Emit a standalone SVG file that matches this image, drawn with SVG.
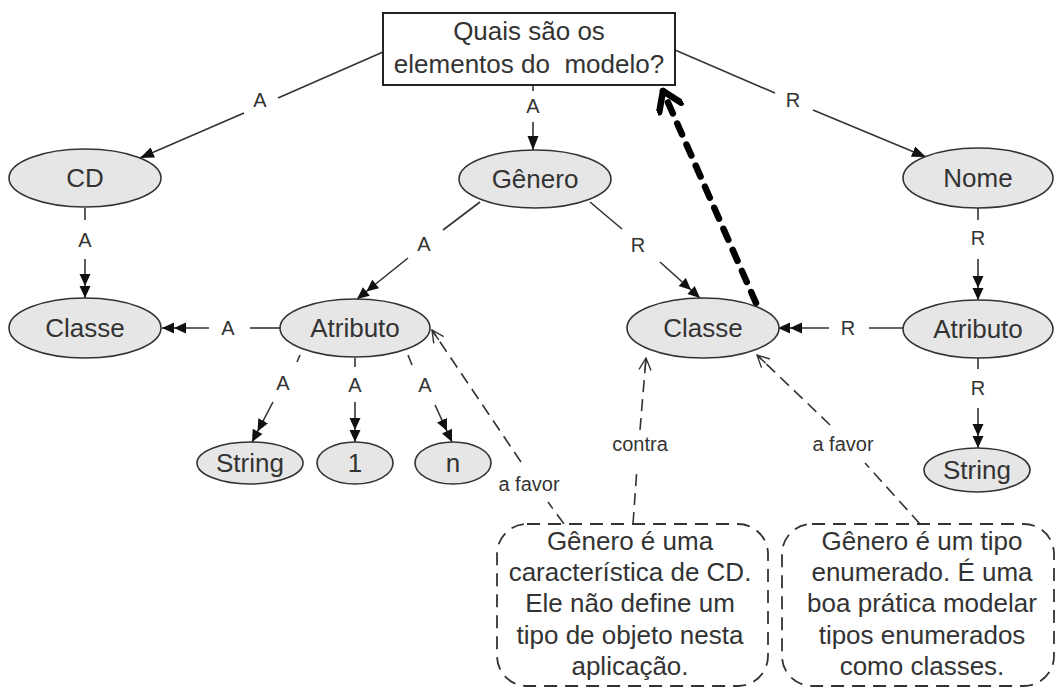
<svg xmlns="http://www.w3.org/2000/svg" width="1057" height="689" viewBox="0 0 1057 689">
<defs>
<style>
.node ellipse{fill:#e6e6e6;stroke:#333;stroke-width:1.6}
.t{font-family:"Liberation Sans",Arial,sans-serif;fill:#333;text-anchor:middle}
.nt{font-size:26px}
.lb{font-size:20px}
.ln{stroke:#333;stroke-width:1.6;fill:none}
.dl{stroke:#333;stroke-width:1.6;fill:none;stroke-dasharray:12 7}
.note rect{fill:#fff;stroke:#333;stroke-width:1.8;stroke-dasharray:13 8}
</style>
<marker id="s" viewBox="0 0 14 12" refX="14" refY="6" markerWidth="14" markerHeight="12" markerUnits="userSpaceOnUse" orient="auto"><path d="M0,0.5 L14,6 L0,11.5 z" fill="#111"/></marker>
<marker id="d" viewBox="0 0 24 12" refX="24" refY="6" markerWidth="24" markerHeight="12" markerUnits="userSpaceOnUse" orient="auto"><path d="M0,0.5 L12,6 L0,11.5 z M12,0.5 L24,6 L12,11.5 z" fill="#111"/></marker>
<marker id="o" viewBox="0 0 14 14" refX="13" refY="7" markerWidth="14" markerHeight="14" markerUnits="userSpaceOnUse" orient="auto"><path d="M1,1 L13,7 L1,13 M1,7 L13,7" fill="none" stroke="#333" stroke-width="1.4"/></marker>
<marker id="big" viewBox="-4 -14 28 28" refX="20" refY="0" markerWidth="28" markerHeight="28" markerUnits="userSpaceOnUse" orient="auto"><path d="M2,-12 L20,0 L2,12" fill="none" stroke="#000" stroke-width="6.5" stroke-linecap="round" stroke-linejoin="round"/></marker>
</defs>
<rect width="1057" height="689" fill="#fff"/>

<g id="connectors">
<!-- box -> CD -->
<path class="ln" d="M383,52 L278,98"/>
<path class="ln" d="M244,113 L140,158" marker-end="url(#s)"/>
<text class="t lb" x="260" y="107">A</text>
<!-- box -> Genero -->
<path class="ln" d="M533,86 L533,91"/>
<path class="ln" d="M533,122 L533,150" marker-end="url(#s)"/>
<text class="t lb" x="533" y="113">A</text>
<!-- box -> Nome -->
<path class="ln" d="M675,50 L775,93"/>
<path class="ln" d="M813,110 L926,157" marker-end="url(#s)"/>
<text class="t lb" x="793" y="107">R</text>
<!-- CD -> Classe -->
<path class="ln" d="M85,208 L85,220"/>
<path class="ln" d="M85,259 L85,298" marker-end="url(#d)"/>
<text class="t lb" x="85" y="247">A</text>
<!-- Atributo -> Classe left -->
<path class="ln" d="M280,328 L250,328"/>
<path class="ln" d="M209,328 L162,328" marker-end="url(#d)"/>
<text class="t lb" x="228" y="335">A</text>
<!-- Genero -> Atributo -->
<path class="ln" d="M480,202 L443,230"/>
<path class="ln" d="M408,258 L357,299" marker-end="url(#d)"/>
<text class="t lb" x="424" y="251">A</text>
<!-- Genero -> Classe R -->
<path class="ln" d="M590,202 L622,229"/>
<path class="ln" d="M660,262 L700,298" marker-end="url(#d)"/>
<text class="t lb" x="638" y="252">R</text>
<!-- Atributo -> String -->
<path class="ln" d="M300,355 L297,362"/>
<path class="ln" d="M273,402 L252,442" marker-end="url(#d)"/>
<text class="t lb" x="283" y="390">A</text>
<!-- Atributo -> 1 -->
<path class="ln" d="M355,358 L355,367"/>
<path class="ln" d="M355,402 L355,442" marker-end="url(#d)"/>
<text class="t lb" x="355" y="392">A</text>
<!-- Atributo -> n -->
<path class="ln" d="M408,355 L412,365"/>
<path class="ln" d="M435,405 L452,442" marker-end="url(#d)"/>
<text class="t lb" x="425" y="392">A</text>
<!-- Nome -> Atributo R -->
<path class="ln" d="M978,208 L978,220"/>
<path class="ln" d="M978,259 L978,300" marker-end="url(#d)"/>
<text class="t lb" x="978" y="245">R</text>
<!-- Atributo R -> Classe R -->
<path class="ln" d="M903,328 L869,328"/>
<path class="ln" d="M829,328 L778,328" marker-end="url(#d)"/>
<text class="t lb" x="848" y="335">R</text>
<!-- Atributo R -> String R -->
<path class="ln" d="M978,358 L978,369"/>
<path class="ln" d="M978,408 L978,448" marker-end="url(#d)"/>
<text class="t lb" x="978" y="395">R</text>
<!-- feedback dashed -->
<path class="dl" d="M564,524 L548,502"/>
<path class="dl" d="M521,462 L432,330" marker-end="url(#o)"/>
<text class="t lb" x="529" y="491">a favor</text>
<path class="dl" d="M633,524 L637,468"/>
<path class="dl" d="M640,430 L646,358" marker-end="url(#o)"/>
<text class="t lb" x="640" y="451">contra</text>
<path class="dl" d="M920,524 L865,463"/>
<path class="dl" d="M830,425 L757,355" marker-end="url(#o)"/>
<text class="t lb" x="843" y="451">a favor</text>
<!-- thick dashed -->
<path d="M756,303 L663,91" fill="none" stroke="#000" stroke-width="6.5" stroke-dasharray="12 11" stroke-linecap="round" marker-end="url(#big)"/>
</g>

<g id="n-question">
<rect x="383" y="13" width="292" height="72" fill="#fff" stroke="#222" stroke-width="2"/>
<text class="t nt" x="529" y="40">Quais são os</text>
<text class="t nt" x="529" y="73" xml:space="preserve">elementos do  modelo?</text>
</g>
<g id="n-cd" class="node"><ellipse cx="85" cy="178" rx="76" ry="29"/><text class="t nt" x="85" y="187">CD</text></g>
<g id="n-genero" class="node"><ellipse cx="535" cy="179" rx="76" ry="29"/><text class="t nt" x="535" y="188">Gênero</text></g>
<g id="n-nome" class="node"><ellipse cx="978" cy="178" rx="75" ry="30"/><text class="t nt" x="978" y="187">Nome</text></g>
<g id="n-classe1" class="node"><ellipse cx="85" cy="328" rx="76" ry="30"/><text class="t nt" x="85" y="337">Classe</text></g>
<g id="n-atributo1" class="node"><ellipse cx="355" cy="328" rx="75" ry="29"/><text class="t nt" x="355" y="337">Atributo</text></g>
<g id="n-classe2" class="node"><ellipse cx="703" cy="328" rx="76" ry="30"/><text class="t nt" x="703" y="337">Classe</text></g>
<g id="n-atributo2" class="node"><ellipse cx="978" cy="329" rx="75" ry="29"/><text class="t nt" x="978" y="338">Atributo</text></g>
<g id="n-string1" class="node"><ellipse cx="250" cy="463" rx="53" ry="21"/><text class="t nt" x="250" y="472">String</text></g>
<g id="n-one" class="node"><ellipse cx="355" cy="463" rx="38" ry="21"/><text class="t nt" x="355" y="472">1</text></g>
<g id="n-n" class="node"><ellipse cx="453" cy="463" rx="38" ry="21"/><text class="t nt" x="453" y="472">n</text></g>
<g id="n-string2" class="node"><ellipse cx="977" cy="470" rx="53" ry="22"/><text class="t nt" x="977" y="479">String</text></g>

<g id="note1" class="note">
<rect x="497" y="524" width="271" height="162" rx="30" ry="30"/>
<text class="t nt" x="630" y="550">Gênero é uma</text>
<text class="t nt" x="630" y="581">característica de CD.</text>
<text class="t nt" x="630" y="612">Ele não define um</text>
<text class="t nt" x="630" y="644">tipo de objeto nesta</text>
<text class="t nt" x="630" y="675">aplicação.</text>
</g>
<g id="note2" class="note">
<rect x="782" y="524" width="272" height="162" rx="30" ry="30"/>
<text class="t nt" x="922" y="550">Gênero é um tipo</text>
<text class="t nt" x="922" y="581">enumerado. É uma</text>
<text class="t nt" x="922" y="612">boa prática modelar</text>
<text class="t nt" x="922" y="644">tipos enumerados</text>
<text class="t nt" x="922" y="675">como classes.</text>
</g>
</svg>
